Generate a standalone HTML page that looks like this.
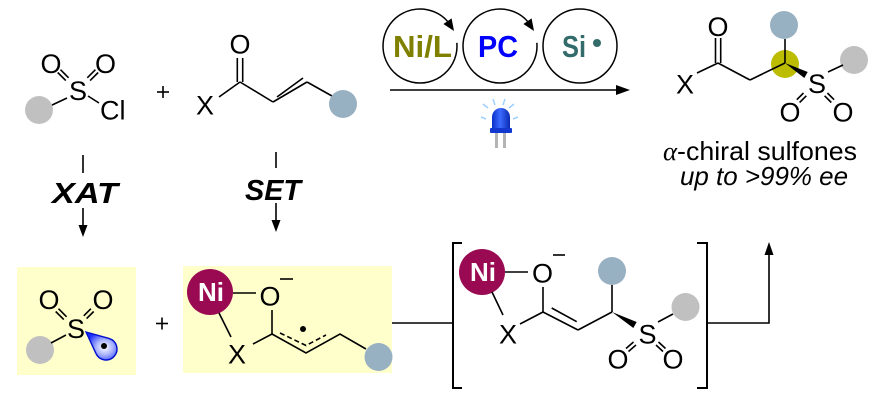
<!DOCTYPE html>
<html><head><meta charset="utf-8"><style>
html,body{margin:0;padding:0;background:#fff;}
svg{display:block;}
text{font-family:"Liberation Sans",Arial,sans-serif;}
</style></head><body>
<svg width="884" height="402" viewBox="0 0 884 402" xmlns="http://www.w3.org/2000/svg">
<defs>
<radialGradient id="lobe" cx="0.6" cy="0.55" r="0.6">
<stop offset="0" stop-color="#ffffff"/><stop offset="0.45" stop-color="#aab4ff"/><stop offset="1" stop-color="#1a2cff"/>
</radialGradient>
<linearGradient id="led" x1="0" y1="0" x2="1" y2="0">
<stop offset="0" stop-color="#0a2fc8"/><stop offset="0.45" stop-color="#3d6bff"/><stop offset="1" stop-color="#0a2ab0"/>
</linearGradient>
</defs>
<g stroke="#000" stroke-width="1.6" fill="none" stroke-linecap="butt">
<line x1="50" y1="106" x2="67" y2="98"/>
<line x1="60.5" y1="69.7" x2="68.6" y2="77.8"/><line x1="57.7" y1="72.5" x2="65.8" y2="80.6"/>
<line x1="98.2" y1="72.5" x2="90.1" y2="80.6"/><line x1="95.4" y1="69.7" x2="87.3" y2="77.8"/>
<line x1="88" y1="96" x2="99" y2="103"/>
<line x1="157" y1="92" x2="169" y2="92"/><line x1="163" y1="86" x2="163" y2="98"/>
<line x1="219" y1="97" x2="240" y2="82"/>
<line x1="237.3" y1="58" x2="237.3" y2="82"/><line x1="242.7" y1="58" x2="242.7" y2="82"/>
<line x1="240" y1="82" x2="273" y2="102"/>
<line x1="273" y1="102" x2="307" y2="82"/><line x1="277" y1="97" x2="303" y2="78"/>
<line x1="307" y1="82" x2="332" y2="96"/>
<line x1="83" y1="155" x2="83" y2="173"/>
<line x1="276" y1="152" x2="276" y2="168"/>
<line x1="83" y1="208" x2="83" y2="226"/>
<line x1="276" y1="203" x2="276" y2="221"/>
<line x1="390" y1="90" x2="618" y2="90"/>
</g>
<polygon points="78.5,225 87.5,225 83,237" fill="#000"/>
<polygon points="271.5,220 280.5,220 276,232" fill="#000"/>
<polygon points="616,85 630,90 616,95" fill="#000"/>
<circle cx="39" cy="110" r="14" fill="#c0c0c0"/>
<circle cx="343" cy="104" r="14" fill="#97b1c3"/>
<g font-size="27" text-anchor="middle" fill="#000">
<text x="51" y="73">O</text>
<text x="105.5" y="73">O</text>
<text x="78" y="100">S</text>
<text x="205" y="114.5">X</text>
<text x="240" y="53.5">O</text>
</g>
<text x="100" y="119.5" font-size="27" fill="#000">Cl</text>
<text x="52" y="203" font-size="29" font-weight="bold" font-style="italic" textLength="66" lengthAdjust="spacingAndGlyphs">XAT</text>
<text x="245" y="200" font-size="29" font-weight="bold" font-style="italic" textLength="56" lengthAdjust="spacingAndGlyphs">SET</text>

<g stroke="#000" stroke-width="1.5" fill="none">
<path d="M456.86,42.78 A37,37 0 1 1 447.5,21.24"/>
<path d="M536.86,42.78 A37,37 0 1 1 527.5,21.24"/>
<circle cx="580" cy="46" r="37"/>
</g>
<polygon points="451.6,18.4 443.4,24.0 454,31" fill="#000"/>
<polygon points="531.6,18.4 523.4,24.0 534,31" fill="#000"/>
<text x="393" y="57" font-size="31" font-weight="bold" fill="#808000" textLength="59" lengthAdjust="spacingAndGlyphs">Ni/L</text>
<text x="478" y="57" font-size="31" font-weight="bold" fill="#0000ff" textLength="40" lengthAdjust="spacingAndGlyphs">PC</text>
<text x="562" y="57" font-size="31" font-weight="bold" fill="#336b6b" textLength="24" lengthAdjust="spacingAndGlyphs">Si</text>
<circle cx="597" cy="43" r="4" fill="#336b6b"/>

<g stroke="#9fd0ff" stroke-width="1.5">
<line x1="483" y1="104" x2="488" y2="108"/>
<line x1="493" y1="99" x2="495" y2="105"/>
<line x1="505" y1="99" x2="503" y2="105"/>
<line x1="514" y1="104" x2="509" y2="108"/>
<line x1="481" y1="117" x2="486" y2="119"/>
<line x1="518" y1="117" x2="513" y2="119"/>
</g>
<rect x="495" y="133" width="3" height="15" fill="#b4b4b4"/>
<rect x="503" y="133" width="3" height="15" fill="#b4b4b4"/>
<path d="M492,129 L492,117 A9,9 0 0 1 510,117 L510,129 Z" fill="url(#led)"/>
<rect x="490" y="128" width="22" height="5" rx="1" fill="#1238d0"/>

<circle cx="785" cy="64" r="14" fill="#bcbc00"/>
<circle cx="784" cy="25" r="14" fill="#97b1c3"/>
<circle cx="854" cy="60" r="14" fill="#c0c0c0"/>
<g stroke="#000" stroke-width="1.6" fill="none">
<line x1="697" y1="73" x2="718" y2="63"/>
<line x1="715.5" y1="38" x2="715.5" y2="63"/><line x1="720.7" y1="38" x2="720.7" y2="63"/>
<line x1="718" y1="63" x2="750" y2="80"/>
<line x1="750" y1="80" x2="785" y2="63"/>
<line x1="785" y1="63" x2="785" y2="39"/>
<line x1="828" y1="72" x2="843" y2="65"/>
<line x1="806.3" y1="95.8" x2="799.6" y2="102.5"/><line x1="803.5" y1="93" x2="796.8" y2="99.7"/>
<line x1="827.4" y1="93" x2="834.1" y2="99.7"/><line x1="824.6" y1="95.8" x2="831.3" y2="102.5"/>
</g>
<polygon points="785,63 804.3,78 807.7,72" fill="#000"/>
<g font-size="27" text-anchor="middle" fill="#000">
<text x="718" y="36">O</text>
<text x="685" y="93.5">X</text>
<text x="817" y="93">S</text>
<text x="790" y="121.5">O</text>
<text x="843" y="121.5">O</text>
</g>
<text x="663" y="160" font-size="26" fill="#000" textLength="194" lengthAdjust="spacingAndGlyphs"><tspan font-family="Liberation Serif, serif" font-style="italic">α</tspan>-chiral sulfones</text>
<text x="680" y="185" font-size="26" font-style="italic" fill="#000" textLength="168" lengthAdjust="spacingAndGlyphs">up to &gt;99% ee</text>

<rect x="17" y="267" width="119" height="108" fill="#ffffcc"/>
<circle cx="40" cy="350" r="14" fill="#c0c0c0"/>
<g stroke="#000" stroke-width="1.6" fill="none">
<line x1="51" y1="343" x2="66" y2="335"/>
<line x1="58.5" y1="308.7" x2="66.6" y2="316.8"/><line x1="55.7" y1="311.5" x2="63.8" y2="319.6"/>
<line x1="93.7" y1="311.5" x2="86.6" y2="318.6"/><line x1="90.9" y1="308.7" x2="83.8" y2="315.8"/>
<line x1="156" y1="323.5" x2="168" y2="323.5"/><line x1="162" y1="317.5" x2="162" y2="329.5"/>
</g>
<path d="M86,332 L108.96,338.4 A11,11 0 1 1 96,353.6 Z" fill="url(#lobe)" stroke="#0010cc" stroke-width="1.4"/>
<circle cx="104" cy="346" r="3" fill="#000"/>
<g font-size="27" text-anchor="middle" fill="#000">
<text x="49" y="309">O</text>
<text x="103" y="309">O</text>
<text x="76" y="338">S</text>
</g>

<rect x="183" y="266" width="209" height="107" fill="#ffffcc"/>
<circle cx="378.5" cy="357" r="14" fill="#97b1c3"/>
<circle cx="210" cy="292" r="23" fill="#9a0a52"/>
<text x="211" y="301" font-size="26" font-weight="bold" text-anchor="middle" fill="#fff">Ni</text>
<g stroke="#000" stroke-width="1.6" fill="none">
<line x1="233" y1="293" x2="256" y2="293"/>
<line x1="219" y1="313" x2="231" y2="337"/>
<line x1="253" y1="344" x2="272" y2="334"/>
<line x1="272" y1="334" x2="272" y2="310"/>
<polyline points="272,334 306,353 340,334 366,349"/>
<polyline points="280,333 306,345.5 326,335" stroke-dasharray="5 3"/>
<line x1="280" y1="279" x2="293" y2="279"/>
<line x1="392" y1="323" x2="453" y2="323"/>
</g>
<circle cx="303" cy="329" r="3" fill="#000"/>
<g font-size="27" text-anchor="middle" fill="#000">
<text x="270" y="305.5">O</text>
<text x="237" y="363.5">X</text>
</g>

<g stroke="#000" stroke-width="2" fill="none">
<polyline points="462,243 453,243 453,388 462,388"/>
<polyline points="697,243 707,243 707,388 697,388"/>
</g>
<circle cx="612" cy="271" r="14" fill="#97b1c3"/>
<circle cx="685.5" cy="307" r="14" fill="#c0c0c0"/>
<circle cx="482" cy="272" r="23" fill="#9a0a52"/>
<text x="483" y="281" font-size="26" font-weight="bold" text-anchor="middle" fill="#fff">Ni</text>
<g stroke="#000" stroke-width="1.6" fill="none">
<line x1="505" y1="272" x2="528" y2="272"/>
<line x1="492" y1="292" x2="503" y2="315"/>
<line x1="520" y1="324" x2="543" y2="312"/>
<line x1="543" y1="312" x2="543" y2="287"/>
<line x1="543" y1="312" x2="578" y2="330"/>
<line x1="551.7" y1="308" x2="576.7" y2="321.7"/>
<line x1="578" y1="330" x2="612" y2="312"/>
<line x1="612" y1="312" x2="612" y2="285"/>
<line x1="658" y1="322" x2="673" y2="314"/>
<line x1="636" y1="345" x2="628.5" y2="351.5"/><line x1="633.5" y1="342" x2="626" y2="348.5"/>
<line x1="658.5" y1="342" x2="665.5" y2="348.5"/><line x1="656" y1="345" x2="663" y2="351.5"/>
<line x1="553" y1="255" x2="565" y2="255"/>
<polyline points="707,323 769,323 769,254"/>
</g>
<polygon points="612,312 633.3,328 636.7,322" fill="#000"/>
<polygon points="764.5,255 773.5,255 769,242" fill="#000"/>
<g font-size="27" text-anchor="middle" fill="#000">
<text x="542.5" y="282.5">O</text>
<text x="508" y="343.5">X</text>
<text x="647.5" y="343.5">S</text>
<text x="618" y="368.5">O</text>
<text x="673" y="368.5">O</text>
</g>
</svg>
</body></html>
